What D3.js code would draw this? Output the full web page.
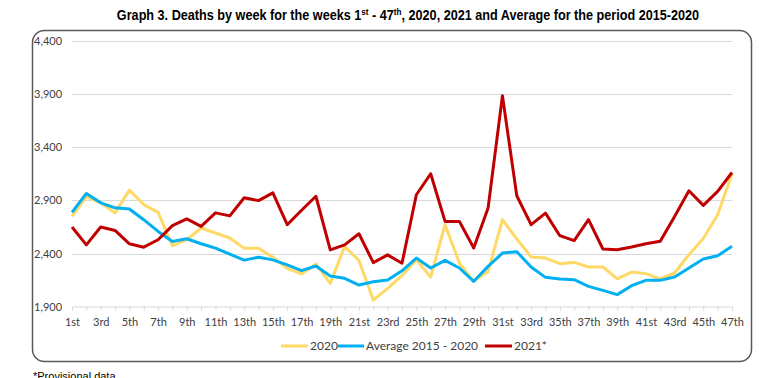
<!DOCTYPE html>
<html>
<head>
<meta charset="utf-8">
<script src="https://cdn.jsdelivr.net/npm/d3@7"></script>
<style>
  body { margin: 0; background: #fff; }
  svg { display: block; }
</style>
</head>
<body>
<div id="chart"></div>
<script>
// week labels (category axis)
var weeks = ["1st","2nd","3rd","4th","5th","6th","7th","8th","9th","10th",
  "11th","12th","13th","14th","15th","16th","17th","18th","19th","20th",
  "21st","22nd","23rd","24th","25th","26th","27th","28th","29th","30th",
  "31st","32nd","33rd","34th","35th","36th","37th","38th","39th","40th",
  "41st","42nd","43rd","44th","45th","46th","47th"];

var deaths2020 = [2751,2933,2877,2783,2996,2861,2788,2474,2531,2641,
  2594,2547,2450,2452,2367,2263,2210,2304,2122,2468,
  2336,1965,2075,2195,2344,2181,2672,2313,2141,2234,
  2719,2538,2369,2359,2306,2318,2275,2275,2163,2228,
  2213,2163,2219,2391,2543,2766,3150];

var average1520 = [2788,2965,2877,2830,2820,2719,2609,2515,2540,2493,
  2452,2395,2340,2367,2342,2295,2241,2285,2191,2169,
  2106,2137,2153,2240,2359,2266,2338,2266,2141,2281,
  2406,2419,2275,2178,2163,2156,2094,2056,2016,2100,
  2150,2150,2181,2266,2350,2381,2469];

var deaths2021 = [2650,2483,2650,2618,2493,2461,2531,2663,2726,2656,
  2783,2755,2925,2898,2971,2672,2807,2939,2436,2483,
  2587,2316,2389,2310,2953,3150,2703,2703,2453,2828,
  3881,2944,2672,2781,2569,2522,2719,2444,2437,2463,
  2494,2516,2750,2990,2853,2984,3162];

var yTicks = [1900,2400,2900,3400,3900,4400];

var series = [
  { name: "2020", values: deaths2020, color: "#FFD966" },
  { name: "Average 2015 - 2020", values: average1520, color: "#00B0F0" },
  { name: "2021*", values: deaths2021, color: "#C00000" }
];

var width = 768, height = 378;
var labelFont = "Lato, 'Open Sans', sans-serif";

var svg = d3.select("#chart").append("svg")
  .attr("width", width).attr("height", height);

// title with superscripts, squeezed horizontally like a narrow font
var titleG = svg.append("g");
var title = titleG.append("text")
  .attr("x", 0).attr("y", 0)
  .attr("text-anchor", "middle")
  .style("font-family", "'Liberation Sans', Arial, sans-serif")
  .style("font-weight", "bold")
  .style("font-size", "14px")
  .attr("fill", "#000");
title.append("tspan").text("Graph 3. Deaths by week for the weeks 1");
title.append("tspan").text("st").attr("dy", -5).style("font-size", "9px");
title.append("tspan").text(" - 47").attr("dy", 5);
title.append("tspan").text("th").attr("dy", -5).style("font-size", "9px");
title.append("tspan").text(", 2020, 2021 and Average for the period 2015-2020").attr("dy", 5);
var titleW = title.node().getComputedTextLength() || 642;
titleG.attr("transform", "translate(408,20) scale(" + (583 / titleW) + ",1)");

// chart frame
svg.append("rect")
  .attr("x", 32.5).attr("y", 30.5)
  .attr("width", 719).attr("height", 331)
  .attr("rx", 12).attr("ry", 12)
  .attr("fill", "none")
  .attr("stroke", "#595959")
  .attr("stroke-width", 1.5);

var x = d3.scaleLinear().domain([0, weeks.length - 1]).range([72, 732]);
var y = d3.scaleLinear().domain([1900, 4400]).range([307, 40.5]);

// gridlines
svg.append("g").selectAll("line")
  .data(yTicks.slice(1))
  .enter().append("line")
  .attr("x1", x(0)).attr("x2", x(weeks.length - 1))
  .attr("y1", function(d) { return Math.round(y(d)) + 0.5; })
  .attr("y2", function(d) { return Math.round(y(d)) + 0.5; })
  .attr("stroke", "#d9d9d9").attr("stroke-width", 1);

// y labels
svg.append("g").selectAll("text")
  .data(yTicks)
  .enter().append("text")
  .attr("x", 34)
  .attr("y", function(d) { return y(d) + 4; })
  .style("font-family", labelFont).style("font-size", "11px")
  .attr("fill", "#404040")
  .text(d3.format(","));

// x axis
var xAxis = d3.axisBottom(x)
  .tickValues(d3.range(weeks.length))
  .tickSize(4)
  .tickFormat(function(d, i) { return i % 2 === 0 ? weeks[i] : ""; });

var gx = svg.append("g")
  .attr("transform", "translate(0," + (Math.round(y(1900)) - 0.5) + ")")
  .call(xAxis);
gx.select(".domain").attr("stroke", "#d9d9d9");
gx.selectAll(".tick line").attr("stroke", "#d9d9d9");
gx.selectAll(".tick text")
  .attr("y", 12)
  .style("font-family", labelFont).style("font-size", "11px")
  .attr("fill", "#404040");

// lines
var line = d3.line()
  .x(function(d, i) { return x(i); })
  .y(function(d) { return y(d); });

svg.append("g").selectAll("path")
  .data(series)
  .enter().append("path")
  .attr("d", function(d) { return line(d.values); })
  .attr("fill", "none")
  .attr("stroke", function(d) { return d.color; })
  .attr("stroke-width", 3)
  .attr("stroke-linejoin", "round");

// legend
var legendX = [281, 337, 485];
var legend = svg.append("g").selectAll("g")
  .data(series)
  .enter().append("g")
  .attr("transform", function(d, i) { return "translate(" + legendX[i] + ",346)"; });
legend.append("line")
  .attr("x1", 0).attr("x2", 27)
  .attr("stroke", function(d) { return d.color; })
  .attr("stroke-width", 3);
legend.append("text")
  .attr("x", 29).attr("y", 4)
  .style("font-family", labelFont).style("font-size", "12px")
  .attr("fill", "#404040")
  .text(function(d) { return d.name; });

// footnote (cut by the bottom edge, as in the source image)
svg.append("text")
  .attr("x", 33).attr("y", 380)
  .style("font-family", "'Liberation Sans', Arial, sans-serif").style("font-size", "11px")
  .attr("fill", "#000")
  .text("*Provisional data");
</script>
</body>
</html>
